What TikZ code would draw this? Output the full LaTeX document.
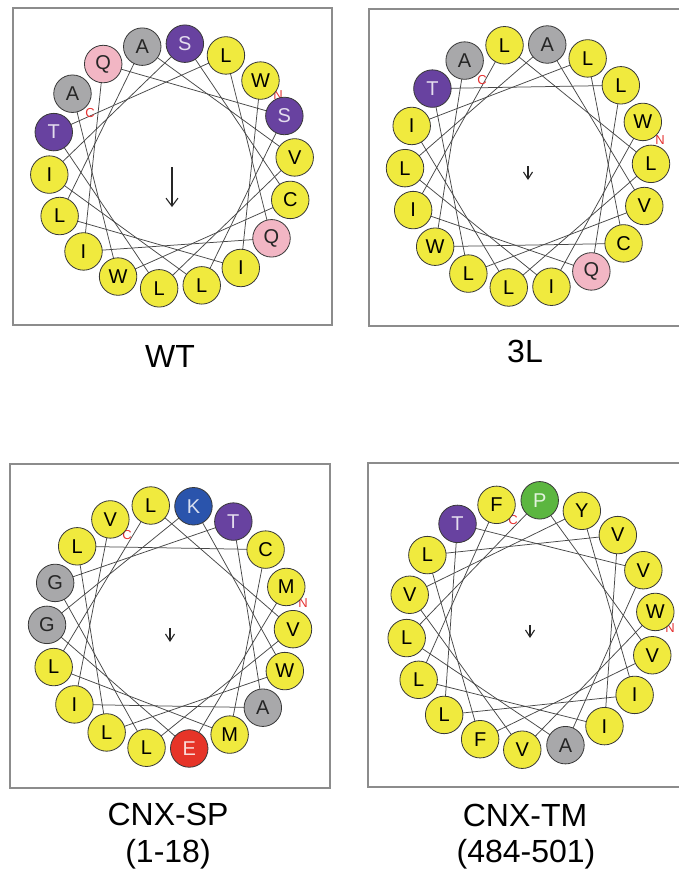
\documentclass[tikz,border=0pt]{standalone}
\usepackage{fontspec}
\setmainfont{Liberation Sans}
\usetikzlibrary{arrows.meta,backgrounds}
\pgfdeclarelayer{back}
\pgfsetlayers{back,background,main}
\definecolor{hyc}{RGB}{240,234,62}
\definecolor{stc}{RGB}{104,66,160}
\definecolor{agc}{RGB}{168,168,170}
\definecolor{nqc}{RGB}{242,182,196}
\definecolor{krc}{RGB}{42,84,172}
\definecolor{dec}{RGB}{230,52,40}
\definecolor{proc}{RGB}{92,182,64}
\definecolor{termred}{RGB}{230,50,50}
\tikzset{
  res/.style={circle,draw=black!78,line width=0.8pt,minimum size=37.5pt,inner sep=0pt,
    font=\fontsize{20}{20}\selectfont},
  hy/.style={res,fill=hyc,text=black},
  st/.style={res,fill=stc,text=white!82!stc},
  ag/.style={res,fill=agc,text=black!85},
  nq/.style={res,fill=nqc,text=black!85},
  kr/.style={res,fill=krc,text=white!82!krc},
  de/.style={res,fill=dec,text=white!82!dec},
  pro/.style={res,fill=proc,text=white!82!proc},
  link/.style={draw=black!72,line width=0.75pt},
  panelframe/.style={draw=black!45,line width=1.5pt},
  term/.style={text=termred,font=\fontsize{13}{13}\selectfont,inner sep=0pt},
  lbl/.style={font=\fontsize{32}{38}\selectfont,inner sep=0pt},
  moment/.style={draw=black!85,line width=1.1pt},
}
% #1 prefix, #2 cx, #3 cy, #4 R, #5 angle of residue 1, #6 list
\newcommand\helwheel[6]{%
  \begin{scope}[shift={(#2,-#3)}]
    \foreach \resL/\resS [count=\k] in {#6} {
      \node[\resS] (#1\k) at ({#5-100*(\k-1)}:#4) {\resL};
    }
  \end{scope}
  \begin{pgfonlayer}{background}
    \foreach \k [evaluate=\k as \j using int(\k+1)] in {1,...,17}
      \draw[link] (#1\k.center) -- (#1\j.center);
  \end{pgfonlayer}
}
\begin{document}
\begin{tikzpicture}[x=1pt,y=1pt]
\begin{pgfonlayer}{back}
  \fill[white] (0,0) rectangle (679,-873);
\end{pgfonlayer}
\useasboundingbox (0,0) rectangle (679,-873);

% frames
\draw[panelframe] (13,-8) rectangle (332,-325);
\draw[panelframe] (369,-9) rectangle (682,-326);
\draw[panelframe] (10,-464) rectangle (330,-788);
\draw[panelframe] (368,-463) rectangle (682,-787);

% WT
\helwheel{wt}{172}{166}{123}{44}{W/hy,I/hy,L/hy,A/ag,V/hy,L/hy,T/st,L/hy,Q/nq,I/hy,Q/nq,S/st,L/hy,I/hy,S/st,C/hy,W/hy,A/ag}
% 3L
\helwheel{tl}{528}{166}{123}{21}{W/hy,I/hy,L/hy,A/ag,V/hy,L/hy,T/st,L/hy,Q/nq,I/hy,L/hy,L/hy,L/hy,I/hy,L/hy,C/hy,W/hy,A/ag}
% CNX-SP
\helwheel{sp}{170}{627}{123}{19}{M/hy,E/de,G/ag,K/kr,W/hy,L/hy,L/hy,C/hy,M/hy,L/hy,L/hy,V/hy,L/hy,G/ag,T/st,A/ag,I/hy,V/hy}
% CNX-TM
\helwheel{tm}{531}{625}{125}{6}{W/hy,V/hy,V/hy,Y/hy,I/hy,L/hy,T/st,V/hy,A/ag,L/hy,P/pro,V/hy,F/hy,L/hy,V/hy,I/hy,L/hy,F/hy}

% terminal labels
\begin{pgfonlayer}{background}
  \node[term] (wtN) at (278,-95) {N};
  \node[term] (wtC) at (90,-113) {C};
  \node[term] (tlN) at (660,-140) {N};
  \node[term] (tlC) at (482,-80) {C};
  \node[term] (spN) at (303,-603) {N};
  \node[term] (spC) at (127,-535) {C};
  \node[term] (tmN) at (670,-628) {N};
  \node[term] (tmC) at (513,-520) {C};
\end{pgfonlayer}

% hydrophobic moments
\coordinate (wtA) at (172,-167); \coordinate (wtB) at (172,-207);
\draw[moment,-{Straight Barb[length=8pt,width=12pt]}] (wtA) -- (wtB);
\coordinate (tlA) at (528,-166); \coordinate (tlB) at (528,-180);
\draw[moment,-{Straight Barb[length=7pt,width=9pt]}] (tlA) -- (tlB);
\coordinate (spA) at (170,-628); \coordinate (spB) at (170,-642);
\draw[moment,-{Straight Barb[length=7pt,width=9pt]}] (spA) -- (spB);
\coordinate (tmA) at (530,-625); \coordinate (tmB) at (530,-638);
\draw[moment,-{Straight Barb[length=7pt,width=9pt]}] (tmA) -- (tmB);

% captions
\node[lbl,anchor=base] (capWT) at (170,-367) {WT};
\node[lbl,anchor=base] (cap3L) at (525,-362) {3L};
\node[lbl,anchor=base] (capSPa) at (168,-825) {CNX-SP};
\node[lbl,anchor=base] (capSPb) at (168,-862) {(1-18)};
\node[lbl,anchor=base] (capTMa) at (525,-826) {CNX-TM};
\node[lbl,anchor=base] (capTMb) at (526,-862) {(484-501)};
\end{tikzpicture}
\end{document}
